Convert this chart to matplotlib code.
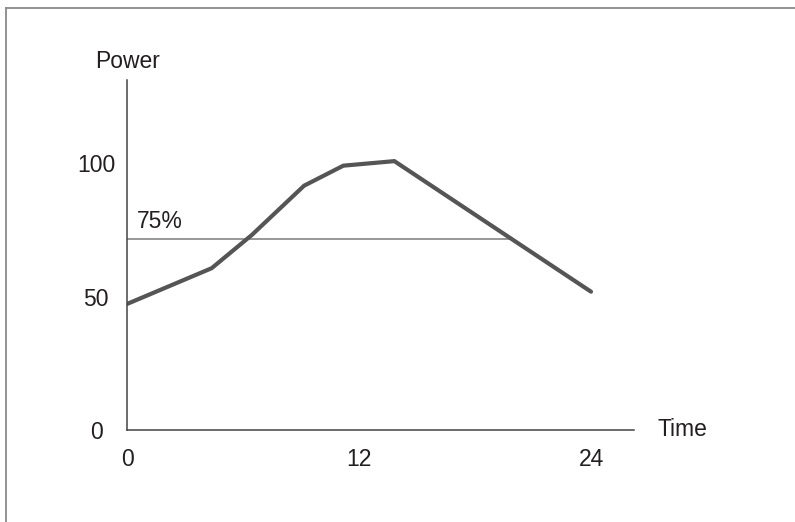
import matplotlib
matplotlib.use("Agg")
import matplotlib.pyplot as plt
from matplotlib.lines import Line2D

# ---- data ----
time_pts = [0, 4.38, 6.45, 9.16, 11.19, 13.83, 24]
power_pts = [47.2, 60.6, 73.0, 91.5, 99.0, 100.7, 51.8]
threshold_value = 71.4
threshold_end = 19.9
threshold_label = "75%"
x_ticks = [0, 12, 24]
x_tick_labels = ["0", "12", "24"]
y_ticks = [0, 50, 100]
y_tick_labels = ["0", "50", "100"]
x_label = "Time"
y_label = "Power"

W, H = 795, 522
plt.rcParams['font.family'] = ['Liberation Sans', 'DejaVu Sans']
fig = plt.figure(figsize=(W / 100, H / 100), dpi=100)
fig.patch.set_facecolor('white')

# axes placement in pixels
x0, y0 = 127, 430      # origin
x1, y1 = 634, 80       # axis ends
ax = fig.add_axes([x0 / W, (H - y0) / H, (x1 - x0) / W, (y0 - y1) / H])
ax.set_xlim(0, (x1 - x0) / ((591 - 127) / 24))
ax.set_ylim(0, (y0 - y1) / 2.67)
ax.patch.set_alpha(0)

txt_color = '#231f20'
fs = 16.5

for s in ['top', 'right']:
    ax.spines[s].set_visible(False)
for s in ['left', 'bottom']:
    ax.spines[s].set_color('#444444')
    ax.spines[s].set_linewidth(1.1)

ax.set_xticks(x_ticks)
ax.set_xticklabels(x_tick_labels)
ax.set_yticks(y_ticks)
ax.set_yticklabels(y_tick_labels)
ax.tick_params(axis='both', length=0, labelsize=fs, labelcolor=txt_color)
ax.tick_params(axis='x', pad=13)
ax.tick_params(axis='y', pad=22.3)
for lab in ax.get_yticklabels():
    lab.set_horizontalalignment('center')

# threshold line
ax.plot([0, threshold_end], [threshold_value, threshold_value], color='#7a7a7a', lw=1.1, solid_capstyle='butt')
ax.text(0.5, threshold_value + 4.3, threshold_label, fontsize=fs, color=txt_color, ha='left', va='baseline')

# main curve
ax.plot(time_pts, power_pts, color='#555555', lw=3.0, solid_joinstyle='miter', solid_capstyle='round')

# axis labels
fig.text(127.5 / W, (H - 67.5) / H, y_label, fontsize=fs, color=txt_color, ha='center', va='baseline')
fig.text(658 / W, (H - 436.5) / H, x_label, fontsize=fs, color=txt_color, ha='left', va='baseline')

# frame (top and left)
fig.add_artist(Line2D([6 / W, 6 / W], [0, (H - 8) / H], color='#8a8a8a', lw=1.3, transform=fig.transFigure))
fig.add_artist(Line2D([6 / W, 1], [(H - 8) / H, (H - 8) / H], color='#8a8a8a', lw=1.3, transform=fig.transFigure))

fig.savefig('out.png', dpi=100)
